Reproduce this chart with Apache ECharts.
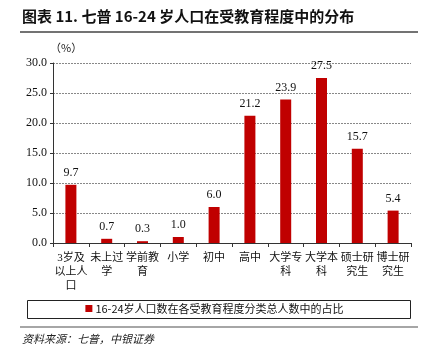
<!DOCTYPE html>
<html>
<head>
    <meta charset="utf-8">
    <script src="https://cdn.jsdelivr.net/npm/echarts@6/dist/echarts.min.js"></script>
    <style>
        html, body { margin: 0; padding: 0; background: #fff; }
    </style>
</head>
<body>
    <div id="main" style="width: 429px;height:352px"></div>

    <script type="text/javascript">
        // 数据
        var categories = ['3岁及\n以上人\n口', '未上过\n学', '学前教\n育', '小学', '初中', '高中', '大学专\n科', '大学本\n科', '硕士研\n究生', '博士研\n究生'];
        var shareValues = [9.7, 0.7, 0.3, 1.0, 6.0, 21.2, 23.9, 27.5, 15.7, 5.4];
        var seriesName = '16-24岁人口数在各受教育程度分类总人数中的占比';

        var serifFont = '"Liberation Serif", "Times New Roman", "Noto Sans CJK SC", serif';
        var cjkFont = '"Noto Sans CJK SC", sans-serif';

        var myChart = echarts.init(document.getElementById('main'));
        var option = {
            backgroundColor: '#fff',
            animation: false,
            graphic: [
                {
                    type: 'text', left: 22, top: 9,
                    style: { text: '图表 11. 七普 16-24 岁人口在受教育程度中的分布', font: 'bold 15px ' + cjkFont, fill: '#111' }
                },
                {
                    type: 'line', shape: { x1: 20, y1: 32, x2: 418, y2: 32 },
                    style: { stroke: '#444', lineWidth: 1.5 }
                },
                {
                    type: 'text', left: 50, top: 42,
                    style: { text: '（%）', font: '11px ' + cjkFont, fill: '#222' }
                },
                {
                    type: 'rect', shape: { x: 27.5, y: 300.5, width: 383, height: 18 },
                    style: { fill: 'none', stroke: '#222', lineWidth: 1 }
                },
                {
                    type: 'line', shape: { x1: 20, y1: 327, x2: 418, y2: 327 },
                    style: { stroke: '#888', lineWidth: 1.5 }
                },
                {
                    type: 'text', left: 22, top: 333,
                    style: { text: '资料来源：七普，中银证券', font: 'italic 11px ' + cjkFont, fill: '#222' }
                }
            ],
            legend: {
                data: [{ name: seriesName, icon: 'rect' }],
                top: 303,
                left: 'center',
                itemWidth: 7,
                itemHeight: 7,
                itemGap: 2,
                padding: 0,
                textStyle: { fontFamily: cjkFont, fontSize: 11, color: '#111', padding: [0, 0, 0, -2] }
            },
            grid: {
                left: 53,
                right: 18,
                top: 63,
                bottom: 109,
                containLabel: false
            },
            xAxis: {
                type: 'category',
                data: categories,
                axisLine: { lineStyle: { color: '#333', width: 1 } },
                axisTick: { show: true, alignWithLabel: false, length: 4, inside: false, lineStyle: { color: '#333' } },
                axisLabel: {
                    interval: 0,
                    margin: 8,
                    fontFamily: serifFont,
                    fontSize: 11,
                    lineHeight: 14,
                    color: '#111'
                }
            },
            yAxis: {
                type: 'value',
                min: 0,
                max: 30,
                interval: 5,
                axisLine: { show: true, lineStyle: { color: '#333', width: 1 } },
                axisTick: { show: true, length: 3, lineStyle: { color: '#333' } },
                axisLabel: {
                    margin: 6,
                    fontFamily: serifFont,
                    fontSize: 12,
                    color: '#111',
                    formatter: function (v) { return v.toFixed(1); }
                },
                splitLine: { lineStyle: { color: '#888', type: [2, 1], width: 1 } }
            },
            series: [{
                name: seriesName,
                type: 'bar',
                barWidth: 11,
                data: shareValues,
                itemStyle: { color: '#C00000' },
                label: {
                    show: true,
                    position: 'top',
                    distance: 6,
                    fontFamily: serifFont,
                    fontSize: 12,
                    color: '#111',
                    formatter: function (p) { return p.value.toFixed(1); }
                }
            }]
        };

        myChart.setOption(option);
    </script>
</body>
</html>
